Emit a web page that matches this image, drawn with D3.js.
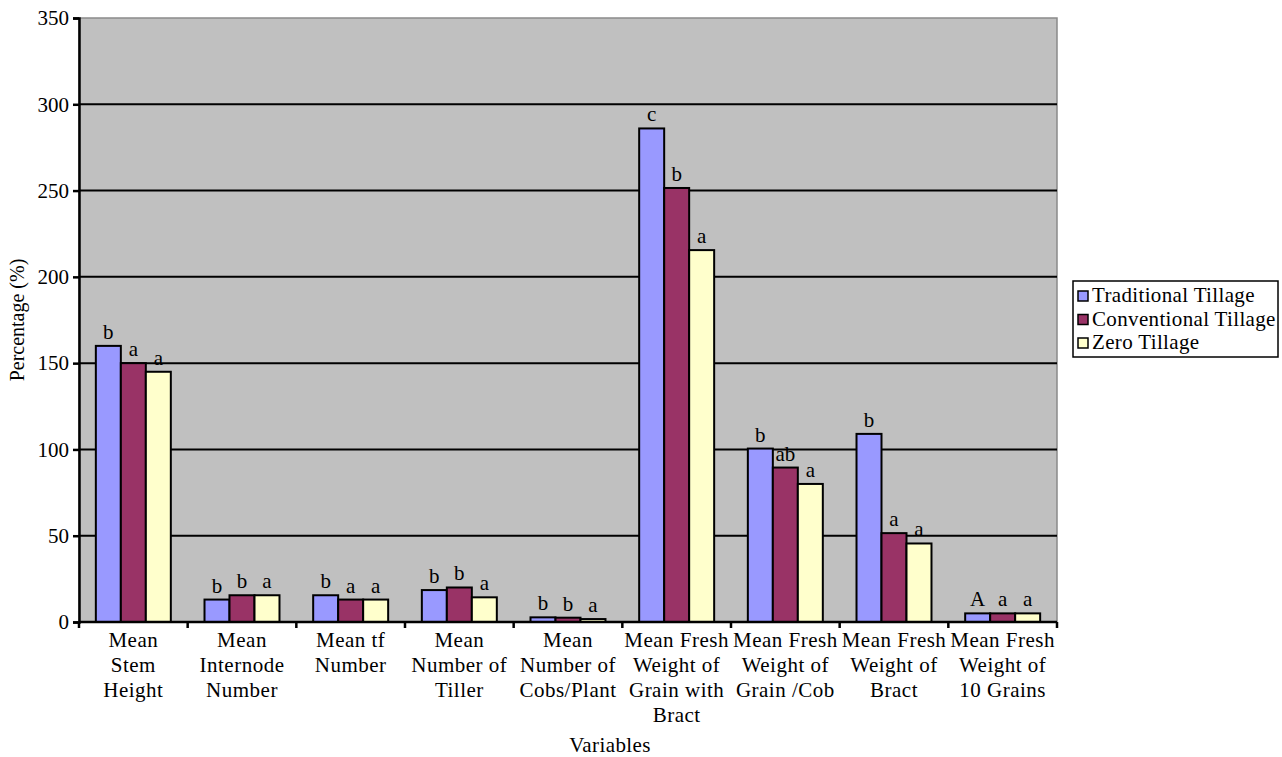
<!DOCTYPE html>
<html>
<head>
<meta charset="utf-8">
<script src="https://cdn.jsdelivr.net/npm/d3@7"></script>
<style>
  html, body { margin: 0; padding: 0; background: #fff; }
</style>
</head>
<body>
<svg id="chart" width="1282" height="757"></svg>
<script>
// Variables measured under each tillage system (percentage)
const categories = [
  ["Mean", "Stem", "Height"],
  ["Mean", "Internode", "Number"],
  ["Mean tf", "Number"],
  ["Mean", "Number of", "Tiller"],
  ["Mean", "Number of", "Cobs/Plant"],
  ["Mean Fresh", "Weight of", "Grain with", "Bract"],
  ["Mean Fresh", "Weight of", "Grain /Cob"],
  ["Mean Fresh", "Weight of", "Bract"],
  ["Mean Fresh", "Weight of", "10 Grains"]
];
const seriesNames = ["Traditional Tillage", "Conventional Tillage", "Zero Tillage"];
const traditional  = [160, 13, 15.5, 18.5, 2.7, 286, 100.5, 109, 5];
const conventional = [150, 15.5, 13, 20, 2.5, 251.5, 89.5, 51.5, 5];
const zero         = [145, 15.5, 13, 14.3, 1.7, 215.5, 80, 45.5, 5];
const letters = [
  ["b", "b", "b", "b", "b", "c", "b", "b", "A"],
  ["a", "b", "a", "b", "b", "b", "ab", "a", "a"],
  ["a", "a", "a", "a", "a", "a", "a", "a", "a"]
];
const yTicks = [0, 50, 100, 150, 200, 250, 300, 350];
const colors = ["#9999ff", "#993366", "#ffffcc"];

const series = [traditional, conventional, zero];
const FONT = "'Liberation Serif', 'Times New Roman', 'DejaVu Serif', serif";

const svg = d3.select("#chart")
  .attr("font-family", FONT);
const margin = { left: 79, top: 18, right: 1057, bottom: 622 };

const x0 = d3.scaleBand()
  .domain(d3.range(categories.length))
  .range([margin.left, margin.right])
  .paddingInner(0.31)
  .paddingOuter(0.155);
const x1 = d3.scaleBand()
  .domain(d3.range(series.length))
  .range([0, x0.bandwidth()]);
const y = d3.scaleLinear().domain([0, 350]).range([margin.bottom, margin.top]);

// Plot background
svg.append("rect")
  .attr("x", margin.left).attr("y", margin.top)
  .attr("width", margin.right - margin.left)
  .attr("height", margin.bottom - margin.top)
  .attr("fill", "#c0c0c0")
  .attr("stroke", "#8a8a8a").attr("stroke-width", 1.5);

// Horizontal gridlines
svg.append("g").selectAll("line")
  .data(yTicks.filter(d => d > 0 && d < 350))
  .join("line")
  .attr("x1", margin.left).attr("x2", margin.right)
  .attr("y1", d => y(d)).attr("y2", d => y(d))
  .attr("stroke", "#000").attr("stroke-width", 2);

// Bars
const groups = svg.append("g").selectAll("g")
  .data(categories.map((c, i) => i))
  .join("g")
  .attr("transform", i => `translate(${x0(i)},0)`);

groups.selectAll("rect")
  .data(i => series.map((s, k) => ({ k, v: s[i] })))
  .join("rect")
  .attr("x", d => x1(d.k))
  .attr("y", d => y(d.v))
  .attr("width", x1.bandwidth())
  .attr("height", d => y(0) - y(d.v))
  .attr("fill", d => colors[d.k])
  .attr("stroke", "#000").attr("stroke-width", 2);

// Significance letters above bars
groups.selectAll("text.sig")
  .data(i => series.map((s, k) => ({ k, v: s[i], t: letters[k][i] })))
  .join("text")
  .attr("class", "sig")
  .attr("x", d => x1(d.k) + x1.bandwidth() / 2)
  .attr("y", d => y(d.v) - 7)
  .attr("text-anchor", "middle")
  .attr("font-family", FONT)
  .attr("font-size", 21)
  .text(d => d.t);

// Y axis
const yAxis = svg.append("g")
  .attr("transform", `translate(${margin.left},0)`)
  .call(d3.axisLeft(y).tickValues(yTicks).tickSize(6).tickPadding(4));
yAxis.attr("font-family", FONT).attr("font-size", 21);
yAxis.select(".domain").attr("stroke", "#000").attr("stroke-width", 2.5);
yAxis.selectAll(".tick line").attr("stroke", "#000").attr("stroke-width", 2.5);
yAxis.selectAll(".tick text").attr("fill", "#000");

// X axis line with tick marks between categories
const xAxis = svg.append("g");
xAxis.append("line")
  .attr("x1", margin.left).attr("x2", margin.right)
  .attr("y1", y(0)).attr("y2", y(0))
  .attr("stroke", "#000").attr("stroke-width", 2.5);
xAxis.selectAll("line.tick")
  .data(d3.range(categories.length + 1))
  .join("line")
  .attr("class", "tick")
  .attr("x1", i => margin.left + i * x0.step())
  .attr("x2", i => margin.left + i * x0.step())
  .attr("y1", y(0)).attr("y2", y(0) + 6)
  .attr("stroke", "#000").attr("stroke-width", 2.5);

// Category labels
const catLabels = svg.append("g").selectAll("text")
  .data(categories)
  .join("text")
  .attr("text-anchor", "middle")
  .attr("font-family", FONT)
  .attr("font-size", 21)
  .attr("letter-spacing", 0.5)
  .attr("transform", (d, i) => `translate(${x0(i) + x0.bandwidth() / 2},${y(0) + 25})`);
catLabels.selectAll("tspan")
  .data(d => d)
  .join("tspan")
  .attr("x", 0)
  .attr("dy", (d, j) => j === 0 ? 0 : 25)
  .text(d => d);

// Axis titles
svg.append("text")
  .attr("x", 610)
  .attr("y", 752)
  .attr("text-anchor", "middle")
  .attr("font-family", FONT)
  .attr("font-size", 21)
  .attr("letter-spacing", 0.4)
  .text("Variables");

svg.append("text")
  .attr("transform", `translate(24,${(margin.top + margin.bottom) / 2}) rotate(-90)`)
  .attr("text-anchor", "middle")
  .attr("font-family", FONT)
  .attr("font-size", 20)
  .text("Percentage (%)");

// Legend
const legend = svg.append("g").attr("transform", "translate(1073,281)");
legend.append("rect")
  .attr("width", 205).attr("height", 76)
  .attr("fill", "#fff").attr("stroke", "#000").attr("stroke-width", 1.5);
const items = legend.selectAll("g.item")
  .data(seriesNames)
  .join("g")
  .attr("class", "item")
  .attr("transform", (d, i) => `translate(5,${10 + i * 23.5})`);
items.append("rect")
  .attr("width", 10).attr("height", 10)
  .attr("fill", (d, i) => colors[i])
  .attr("stroke", "#000").attr("stroke-width", 1.5);
items.append("text")
  .attr("x", 14).attr("y", 11)
  .attr("font-family", FONT)
  .attr("font-size", 21)
  .attr("letter-spacing", 0.35)
  .text(d => d);
</script>
</body>
</html>
